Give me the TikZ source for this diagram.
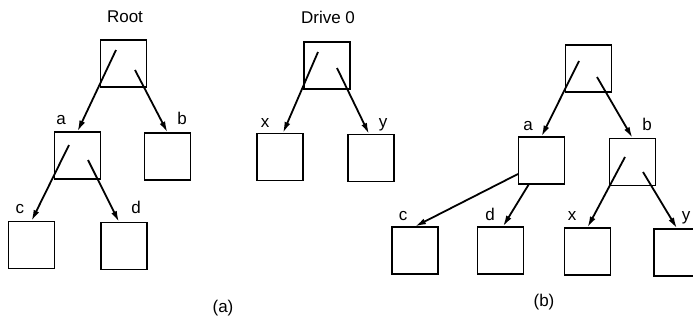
\documentclass[tikz,border=0pt]{standalone}
\usepackage{fontspec}
\setmainfont{Liberation Sans}
\usetikzlibrary{arrows.meta}
\begin{document}
\begin{tikzpicture}[x=1pt,y=-1pt,
  cell/.style={draw,line width=1.1pt,minimum width=46pt,minimum height=47pt,inner sep=0pt},
  ptr/.style={line width=1.8pt,-{Latex[length=11pt,width=6pt]}},
  lbl/.style={font=\fontsize{17}{19}\selectfont,anchor=base,inner sep=0pt},
  captxt/.style={font=\fontsize{17}{19}\selectfont,inner sep=0pt}]
\useasboundingbox (0,0) rectangle (693,327);
% panel (a) left tree
\node[cell] (ra) at (123.5,63.5) {};
\node[cell] (aa) at (77.5,155.5) {};
\node[cell] (ba) at (167.5,156.5) {};
\node[cell] (ca) at (31.5,245) {};
\node[cell] (da) at (124,246) {};
\node[lbl] (tRoot) at (125,22) {Root};
\node[lbl] (la) at (61,124) {a};
\node[lbl] (lb) at (182,124) {b};
\node[lbl] (lc) at (20,213) {c};
\node[lbl] (ld) at (136,213) {d};
\coordinate (s1) at (116,50);
\coordinate (s2) at (135,70);
\coordinate (s3) at (69,145);
\coordinate (s4) at (88,160);
\draw[ptr] (s1) -- (aa.north);
\draw[ptr] (s2) -- (ba.north);
\draw[ptr] (s3) -- (ca.north);
\draw[ptr] (s4) -- ([xshift=-5pt]da.north);
% panel (a) drive tree
\node[cell] (dr) at (327,65.5) {};
\node[cell] (xa) at (280,157) {};
\node[cell] (ya) at (371,158) {};
\node[lbl] (tDrive) at (328,23) {Drive 0};
\node[lbl] (lx) at (265,127) {x};
\node[lbl] (ly) at (383,127) {y};
\coordinate (s5) at (318,52);
\coordinate (s6) at (337,68);
\draw[ptr] (s5) -- ([xshift=3pt]xa.north);
\draw[ptr] (s6) -- ([xshift=-2pt]ya.north);
\node[captxt] (capa) at (223,308) {(a)};
% panel (b)
\node[cell] (rb) at (588.5,68.5) {};
\node[cell] (ab) at (541.5,160.5) {};
\node[cell] (bb) at (632.5,162) {};
\node[cell] (cb) at (415,250.5) {};
\node[cell] (db) at (500.5,250.5) {};
\node[cell] (xb) at (587.5,251.5) {};
\node[cell] (yb) at (677,252.5) {};
\node[lbl] (lab) at (528,130) {a};
\node[lbl] (lbb) at (647,130) {b};
\node[lbl] (lcb) at (403,220) {c};
\node[lbl] (ldb) at (490,220) {d};
\node[lbl] (lxb) at (572,220) {x};
\node[lbl] (lyb) at (686,220) {y};
\coordinate (t1) at (579,61);
\coordinate (t2) at (597,77);
\coordinate (t3) at (518,174);
\coordinate (t4) at (529,184);
\coordinate (t5) at (625,157);
\coordinate (t6) at (643,172);
\draw[ptr] (t1) -- (ab.north);
\draw[ptr] (t2) -- (bb.north);
\draw[ptr] (t3) -- (cb.north);
\draw[ptr] (t4) -- ([xshift=2.5pt]db.north);
\draw[ptr] (t5) -- (xb.north);
\draw[ptr] (t6) -- (yb.north);
\node[captxt] (capb) at (544,302) {(b)};
\end{tikzpicture}
\end{document}
